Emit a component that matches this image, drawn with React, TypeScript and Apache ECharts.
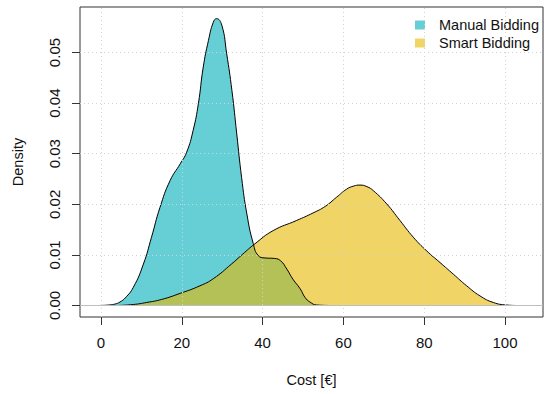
import React, { useEffect, useRef } from "react";
import * as echarts from "echarts";

// Kernel density estimates of cost per bidding strategy
const manualCost = [-1, 2, 3.5, 4.7, 6, 8, 10.5, 12.5, 14.6, 17.1, 19.6, 21.2, 22.8, 24.1, 25.3, 26.6, 27.8, 28.6, 29.9, 31.1, 32.4, 33.6, 34.8, 36.1, 37.7, 38.9, 40.6, 43.0, 44.5, 46.0, 47.5, 49.3, 50.5, 51.7, 53.4, 57];
const manualDensity = [0, 0.0001, 0.0003, 0.0007, 0.0015, 0.0036, 0.0082, 0.0135, 0.0194, 0.0247, 0.028, 0.0303, 0.0346, 0.0399, 0.0471, 0.0524, 0.056, 0.0567, 0.0554, 0.0498, 0.0425, 0.0339, 0.0253, 0.0181, 0.0122, 0.0099, 0.0094, 0.0093, 0.0088, 0.0072, 0.0052, 0.0033, 0.0016, 0.0007, 0.0001, 0];

const smartCost = [4, 8, 11.3, 15, 19.6, 24.5, 27.8, 32.3, 35, 38.1, 42.6, 48.4, 52.5, 55.5, 58.3, 60.8, 62.5, 64.1, 65.8, 67.4, 70.7, 74.0, 77.3, 80.6, 83.9, 87.2, 90.5, 93.8, 97.1, 100.4, 103];
const smartDensity = [0, 0.0002, 0.0006, 0.0012, 0.0024, 0.0039, 0.0053, 0.0082, 0.0101, 0.0122, 0.0148, 0.0168, 0.0183, 0.0196, 0.0214, 0.023, 0.0236, 0.0238, 0.0235, 0.0227, 0.0201, 0.0168, 0.0135, 0.0108, 0.0085, 0.0062, 0.0039, 0.0019, 0.0006, 0.0001, 0];

const xTicks = [0, 20, 40, 60, 80, 100];
const yTicks = [0, 0.01, 0.02, 0.03, 0.04, 0.05];

const seriesNames = ["Manual Bidding", "Smart Bidding"];
const fillColors = ["rgba(0,175,187,0.6)", "rgba(231,184,0,0.6)"];

const FONT = "Liberation Sans, Arial, sans-serif";
const TEXT = "#111";
const FRAME = "#333";

export default function App() {
  const ref = useRef<HTMLDivElement>(null);

  useEffect(() => {
    if (!ref.current) return;
    const chart = echarts.init(ref.current, undefined, { renderer: "svg" });

    const pairs = (xs: number[], ys: number[]) => xs.map((x, i) => [x, ys[i]]);

    const gridLines = [
      ...xTicks.map((v) => ({ xAxis: v })),
      ...yTicks.map((v) => ({ yAxis: v })),
    ];

    const densitySeries = [pairs(manualCost, manualDensity), pairs(smartCost, smartDensity)].map(
      (data, i) => ({
        type: "line",
        name: seriesNames[i],
        data,
        smooth: 0.5,
        showSymbol: false,
        symbol: "none",
        lineStyle: { color: "#000", width: 1 },
        itemStyle: { color: fillColors[i] },
        areaStyle: { color: fillColors[i], opacity: 1 },
        z: 3,
      })
    );

    const tick = {
      show: true,
      inside: false,
      length: 8,
      lineStyle: { color: FRAME, width: 1 },
    };

    chart.setOption({
      animation: false,
      textStyle: { fontFamily: FONT },
      grid: {
        left: 80,
        top: 7,
        width: 463,
        height: 310,
        show: true,
        borderColor: FRAME,
        borderWidth: 1,
        backgroundColor: "transparent",
      },
      xAxis: {
        type: "value",
        min: -5.2,
        max: 109.4,
        axisLine: { show: false, onZero: false },
        splitLine: { show: false },
        axisTick: { ...tick, customValues: xTicks },
        axisLabel: {
          customValues: xTicks,
          margin: 18,
          fontSize: 15,
          color: TEXT,
          fontFamily: FONT,
        },
      },
      yAxis: {
        type: "value",
        min: -0.00227,
        max: 0.059,
        axisLine: { show: false, onZero: false },
        splitLine: { show: false },
        axisTick: { ...tick, customValues: yTicks },
        axisLabel: {
          customValues: yTicks,
          rotate: 90,
          margin: 18,
          fontSize: 15,
          color: TEXT,
          fontFamily: FONT,
          formatter: (v: number) => v.toFixed(2),
        },
      },
      legend: {
        orient: "vertical",
        left: 415,
        top: 16,
        padding: 0,
        itemWidth: 10,
        itemHeight: 9,
        itemGap: 0,
        icon: "rect",
        data: seriesNames.map((name, i) => ({
          name,
          itemStyle: { color: fillColors[i], borderWidth: 0 },
        })),
        textStyle: {
          fontSize: 14.5,
          color: TEXT,
          fontFamily: FONT,
          lineHeight: 18,
          padding: [0, 0, 0, 9],
        },
      },
      graphic: [
        {
          type: "text",
          x: 18,
          y: 162,
          rotation: Math.PI / 2,
          style: {
            text: "Density",
            fontSize: 14.5,
            fontFamily: FONT,
            fill: TEXT,
            textAlign: "center",
            textVerticalAlign: "middle",
          },
        },
        {
          type: "text",
          x: 311.5,
          y: 380,
          style: {
            text: "Cost [€]",
            fontSize: 14.5,
            fontFamily: FONT,
            fill: TEXT,
            textAlign: "center",
            textVerticalAlign: "middle",
          },
        },
      ],
      series: [
        {
          // dotted reference grid
          type: "line",
          data: [],
          silent: true,
          z: 1,
          markLine: {
            silent: true,
            symbol: "none",
            label: { show: false },
            lineStyle: { color: "#D3D3D3", type: [1, 3], width: 1 },
            data: gridLines,
          },
        },
        {
          // zero line under the densities
          type: "line",
          data: [],
          silent: true,
          z: 2,
          markLine: {
            silent: true,
            symbol: "none",
            label: { show: false },
            lineStyle: { color: "#BEBEBE", type: "solid", width: 1 },
            data: [{ yAxis: 0 }],
          },
        },
        ...densitySeries,
      ],
    });

    return () => chart.dispose();
  }, []);

  return (
    <div
      ref={ref}
      style={{ position: "fixed", left: 0, top: 0, width: 544, height: 394, background: "#fff" }}
    />
  );
}
